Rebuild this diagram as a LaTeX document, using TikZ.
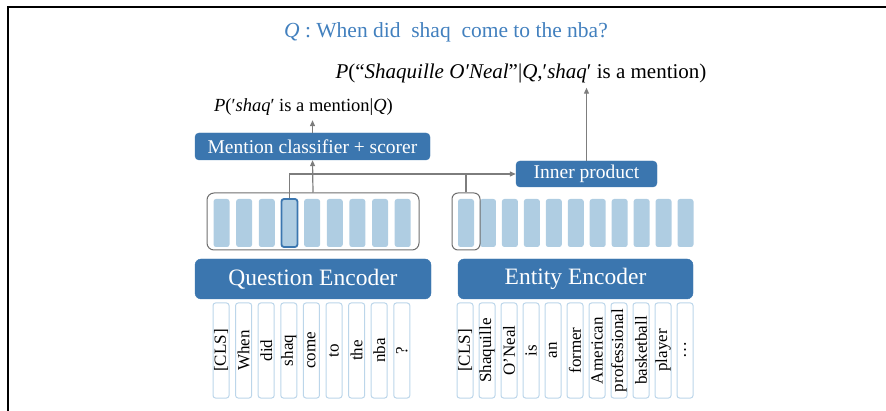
\documentclass[tikz,border=0pt]{standalone}
\usepackage{fontspec}
\setmainfont{Liberation Serif}
\usetikzlibrary{arrows.meta}
\definecolor{encblue}{RGB}{59,118,175}
\definecolor{titleblue}{RGB}{66,128,190}
\definecolor{barblue}{RGB}{175,205,226}
\definecolor{tokline}{RGB}{188,214,234}
\definecolor{wire}{RGB}{125,125,125}
\definecolor{grpline}{RGB}{110,110,110}
\begin{document}
\begin{tikzpicture}[x=1pt,y=-1pt,
  bluebox/.style={fill=encblue, draw=encblue, rounded corners=4pt, text=white, inner sep=0pt},
  tok/.style={draw=tokline, fill=white, line width=1pt, rounded corners=2.5pt,
    minimum width=95pt, minimum height=16pt, inner sep=0pt, font=\fontsize{17}{17}\selectfont},
  bar/.style={fill=barblue, rounded corners=2.5pt, minimum width=16pt, minimum height=48pt, inner sep=0pt},
  selbar/.style={draw=encblue, line width=1.8pt},
  grp/.style={draw=grpline, line width=1pt, rounded corners=7pt, inner sep=0pt},
  wireline/.style={draw=wire, line width=1.2pt},
  tip/.style={-{Triangle[width=5pt,length=6pt]}},
  prob/.style={anchor=base, inner sep=4pt}]
\useasboundingbox (0,0) rectangle (886,411);

% frame
\draw[black, line width=1.3pt] (8,411) -- (8,7) -- (886,7);

% question and probabilities
\node[anchor=base, text=titleblue, font=\fontsize{21.5}{24}\selectfont] (title) at (446,38)
  {\textit{Q} : When did\ \ shaq\ \ come to the nba?};
\node[prob, font=\fontsize{21}{24}\selectfont] (lab1) at (521,79)
  {\textit{P}(“\textit{Shaquille O′Neal}”|\textit{Q},′\textit{shaq}′ is a mention)};
\node[prob, font=\fontsize{18.5}{22}\selectfont] (lab2) at (303.5,112)
  {\textit{P}(′\textit{shaq}′ is a mention|\textit{Q})};

% heads
\node[bluebox, minimum width=235pt, minimum height=27pt, font=\fontsize{19.5}{22}\selectfont]
  (mention) at (312.5,146.5) {Mention classifier + scorer};
\node[bluebox, minimum width=141pt, minimum height=26pt, font=\fontsize{19.5}{22}\selectfont]
  (inner) at (586.5,174) {Inner product};

% encoders
\node[bluebox, rounded corners=6pt, minimum width=236pt, minimum height=40pt, font=\fontsize{23.5}{26}\selectfont]
  (qenc) at (313,279) {Question Encoder};
\node[bluebox, rounded corners=6pt, minimum width=235pt, minimum height=40pt, font=\fontsize{23.5}{26}\selectfont]
  (eenc) at (575.5,279) {Entity Encoder};

% input tokens
\foreach \w [count=\i from 0] in {{[CLS]},When,did,shaq,come,to,the,nba,?}
  \node[tok, rotate=90] (q\i) at ({221+22.6*\i},350.5) {\w};
\foreach \w [count=\i from 0] in {{[CLS]},Shaquille,O’Neal,is,an,former,American,professional,basketball,player,\ldots}
  \node[tok, rotate=90] (e\i) at ({465+22*\i},350.5) {\w};

% output embeddings
\foreach \i in {0,1,2,4,5,6,7,8}
  \node[bar] (qb\i) at ({221.5+22.65*\i},223) {};
\node[bar, selbar] (qb3) at ({221.5+22.65*3},223) {};
\foreach \i in {0,...,10}
  \node[bar] (eb\i) at ({466+21.95*\i},223) {};

% groupings
\node[grp, minimum width=212pt, minimum height=57pt] (qgrp) at (313,221.5) {};
\node[grp, rounded corners=6pt, minimum width=28pt, minimum height=57pt] (cgrp) at (466,221.5) {};

% connectors
\draw[wireline, tip] (qgrp.north) -- (mention.south);
\draw[wireline, tip] (mention.north) -- (mention.north |- lab2.south);
\draw[wireline, tip] (qb3.north) |- (inner.west);
\draw[wireline] (cgrp.north) -- (cgrp.north |- inner.west);
\draw[wireline, tip] (inner.north) -- (inner.north |- lab1.south);
\end{tikzpicture}
\end{document}
